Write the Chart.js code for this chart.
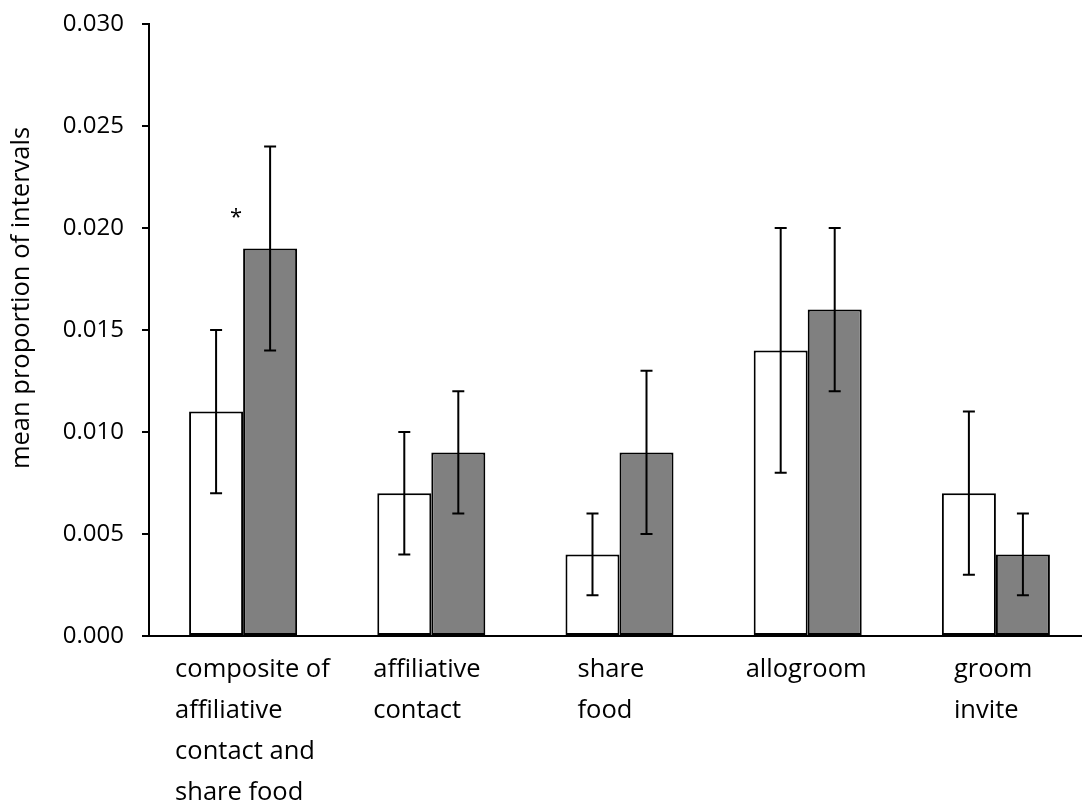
<!DOCTYPE html>
<html>
<head>
<meta charset="utf-8">
<script src="https://cdn.jsdelivr.net/npm/chart.js@4.4.1/dist/chart.umd.min.js"></script>
<style>
    html, body { margin: 0; padding: 0; background: #fff; overflow: hidden; }
</style>
</head>
<body>
<canvas id="chart" width="1092" height="805"></canvas>
<script>
// chart values
const categories = [
    ["composite of", "affiliative", "contact and", "share food"],
    ["affiliative", "contact"],
    ["share", "food"],
    ["allogroom"],
    ["groom", "invite"]
];
const whiteMeans = [0.011, 0.007, 0.004, 0.014, 0.007];
const whiteLow   = [0.007, 0.004, 0.002, 0.008, 0.003];
const whiteHigh  = [0.015, 0.010, 0.006, 0.020, 0.011];
const grayMeans  = [0.019, 0.009, 0.009, 0.016, 0.004];
const grayLow    = [0.014, 0.006, 0.005, 0.012, 0.002];
const grayHigh   = [0.024, 0.012, 0.013, 0.020, 0.006];
const yTickLabels = ["0.000", "0.005", "0.010", "0.015", "0.020", "0.025", "0.030"];
const yTitle = "mean proportion of intervals";
const starredCategories = [0];
const starLevel = 0.0202;

const FONT = "'Open Sans', sans-serif";
// left edge of each x label block, relative to the category centre
const labelNudge = [-68, -58, -42, -62, -42];

const errorBars = {
    id: "errorBars",
    afterDatasetsDraw(chart) {
        const ctx = chart.ctx;
        const y = chart.scales.y;
        const ranges = [[whiteLow, whiteHigh], [grayLow, grayHigh]];
        ctx.save();
        ctx.strokeStyle = "#000";
        ctx.lineWidth = 2;
        chart.data.datasets.forEach((ds, d) => {
            chart.getDatasetMeta(d).data.forEach((bar, i) => {
                const top = y.getPixelForValue(ranges[d][1][i]);
                const bot = y.getPixelForValue(ranges[d][0][i]);
                ctx.beginPath();
                ctx.moveTo(bar.x, top); ctx.lineTo(bar.x, bot);
                ctx.moveTo(bar.x - 6, top); ctx.lineTo(bar.x + 6, top);
                ctx.moveTo(bar.x - 6, bot); ctx.lineTo(bar.x + 6, bot);
                ctx.stroke();
            });
        });
        ctx.restore();
    }
};

const textBits = {
    id: "textBits",
    afterDraw(chart) {
        const ctx = chart.ctx;
        const x = chart.scales.x, y = chart.scales.y;
        const area = chart.chartArea;
        ctx.save();
        ctx.fillStyle = "#000";

        // category labels, left aligned lines
        ctx.font = "25.5px " + FONT;
        ctx.textAlign = "left";
        ctx.textBaseline = "alphabetic";
        categories.forEach((lines, i) => {
            const left = x.getPixelForValue(i) + labelNudge[i];
            lines.forEach((line, k) => {
                ctx.fillText(line, left, area.bottom + 41 + k * 41);
            });
        });

        // significance marker
        ctx.textAlign = "center";
        ctx.font = "22px " + FONT;
        starredCategories.forEach(i => {
            ctx.fillText("*", x.getPixelForValue(i) - 7, y.getPixelForValue(starLevel));
        });

        // y axis title (sits a little above the plot centre, as in the original)
        ctx.translate(22, (area.top + area.bottom) / 2 - 32);
        ctx.rotate(-Math.PI / 2);
        ctx.font = "25.5px " + FONT;
        ctx.textBaseline = "middle";
        ctx.fillText(yTitle, 0, 0);
        ctx.restore();
    }
};

new Chart(document.getElementById("chart"), {
    type: "bar",
    data: {
        labels: categories,
        datasets: [{
            label: "white",
            data: whiteMeans,
            backgroundColor: "#ffffff",
            borderColor: "#000",
            borderWidth: 2,
            borderSkipped: false,
            barPercentage: 1,
            categoryPercentage: 0.574
        }, {
            label: "gray",
            data: grayMeans,
            backgroundColor: "#808080",
            borderColor: "#000",
            borderWidth: 2,
            borderSkipped: false,
            barPercentage: 1,
            categoryPercentage: 0.574
        }]
    },
    options: {
        responsive: false,
        animation: false,
        layout: { padding: { top: 24, right: 2, left: 0, bottom: 0 } },
        plugins: { legend: { display: false }, tooltip: { enabled: false } },
        scales: {
            x: {
                grid: { display: false },
                border: { display: true, color: "#000", width: 2 },
                ticks: { display: false },
                afterFit: s => { s.height = 169; }
            },
            y: {
                min: 0,
                max: 0.03,
                ticks: {
                    stepSize: 0.005,
                    padding: 18,
                    color: "#000",
                    font: { family: FONT, size: 24 },
                    callback: (v, i) => yTickLabels[i]
                },
                grid: { drawOnChartArea: false, drawTicks: true, tickLength: 7, color: "#000", lineWidth: 2 },
                border: { display: true, color: "#000", width: 2 },
                afterFit: s => {
                    s.width = 149;
                    s.paddingTop = 0;    // tick padding would otherwise push the plot down
                    s.paddingBottom = 0;
                }
            }
        }
    },
    plugins: [errorBars, textBits]
});
</script>
</body>
</html>
